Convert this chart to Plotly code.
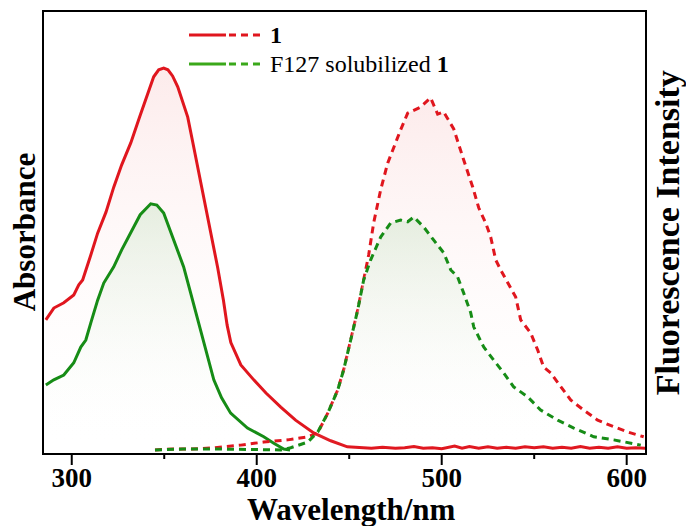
import plotly.graph_objects as go

# ---- Absorption spectra (left axis, a.u.) ----
abs_wl_1 = [286, 290.3, 295.7, 301.1, 303.8, 305.9, 310, 314, 318.5, 322.7, 327, 331.9,
            336.5, 341, 344.3, 347, 349.7, 352, 354.5, 357.3, 360, 362.7, 365.4, 368.1,
            370.8, 373.5, 376.2, 378.9, 382, 384, 386, 391.4, 398.4, 405, 413, 421, 430.8,
            440, 449, 455, 462, 468, 475, 480, 485, 490, 495, 500, 503, 507, 511, 515, 520,
            525, 530, 535, 540, 545, 550, 555, 560, 565, 570, 575, 580, 585, 590, 595, 600,
            605, 610]
abs_val_1 = [0.297, 0.324, 0.336, 0.354, 0.377, 0.388, 0.441, 0.495, 0.543, 0.600, 0.651,
             0.701, 0.758, 0.815, 0.852, 0.868, 0.872, 0.868, 0.854, 0.829, 0.797, 0.760,
             0.703, 0.646, 0.589, 0.532, 0.473, 0.416, 0.342, 0.285, 0.245, 0.194, 0.160,
             0.130, 0.098, 0.068, 0.039, 0.021, 0.007, 0.005, 0.004, 0.006, 0.004, 0.005,
             0.008, 0.004, 0.005, 0.003, 0.006, 0.009, 0.004, 0.008, 0.004, 0.007, 0.004,
             0.006, 0.004, 0.007, 0.005, 0.007, 0.004, 0.006, 0.004, 0.008, 0.004, 0.006,
             0.004, 0.007, 0.004, 0.005, 0.004]

abs_wl_f127 = [286, 290.3, 295.7, 301.1, 304.9, 307.6, 310.3, 314, 317.3, 322.7, 327, 331.9,
               337, 342.7, 346, 349.7, 355, 360.5, 364.3, 369.7, 376.8, 381, 385.9, 395,
               403.8, 409, 414.6, 418]
abs_val_f127 = [0.148, 0.160, 0.171, 0.199, 0.235, 0.251, 0.290, 0.342, 0.381, 0.418, 0.457,
                0.495, 0.537, 0.562, 0.559, 0.541, 0.479, 0.418, 0.358, 0.274, 0.160, 0.119,
                0.084, 0.050, 0.030, 0.016, 0.002, 0.0]

# ---- Fluorescence spectra (right axis, a.u.) ----
fl_wl_1 = [345, 355, 365, 376.8, 391.4, 403.8, 416.8, 427.6, 433, 438.4, 443.8, 447, 450.8,
           454.6, 457.8, 460.5, 463.2, 467, 470.8, 474, 477.8, 481.6, 484.9, 488.6, 494,
           497.8, 501, 506.5, 511.9, 516.8, 520, 523.8, 526.5, 529.2, 531.9, 535.7, 540,
           542.7, 548.1, 551.9, 555.1, 558.9, 564.3, 569.7, 576.8, 584.3, 593, 600.5, 609.2]
fl_val_1 = [0.000, 0.002, 0.002, 0.005, 0.011, 0.018, 0.023, 0.030, 0.039, 0.084, 0.137,
            0.183, 0.251, 0.320, 0.388, 0.445, 0.518, 0.594, 0.655, 0.692, 0.731, 0.769,
            0.776, 0.783, 0.804, 0.767, 0.772, 0.733, 0.662, 0.600, 0.553, 0.518, 0.486,
            0.434, 0.411, 0.381, 0.349, 0.297, 0.267, 0.228, 0.189, 0.176, 0.144, 0.114,
            0.091, 0.068, 0.053, 0.041, 0.030]

fl_wl_f127 = [345, 360, 380, 400, 413, 418.4, 427.6, 433, 438.4, 443.8, 447, 450.8, 454.6,
              457.8, 461.6, 467, 472.4, 477.8, 481.6, 484.9, 490.3, 495.7, 501.1, 504.9,
              508.6, 511.9, 515.7, 517.3, 522.7, 528.1, 533.5, 538.9, 546.5, 553.5, 562.7,
              571.4, 582.2, 593, 607.6]
fl_val_f127 = [0.000, 0.002, 0.002, 0.000, 0.000, 0.005, 0.018, 0.041, 0.084, 0.137, 0.183,
               0.251, 0.320, 0.388, 0.434, 0.486, 0.518, 0.525, 0.521, 0.532, 0.509, 0.479,
               0.450, 0.411, 0.395, 0.358, 0.313, 0.281, 0.235, 0.205, 0.176, 0.144, 0.121,
               0.091, 0.068, 0.050, 0.030, 0.023, 0.011]

x_ticks = [300, 400, 500, 600]
x_minor_ticks = [350, 450, 550]

RED = "#e0161e"
GREEN = "#168c16"
LEG_GREEN = "#3aa81a"
SERIF = "Times New Roman, Liberation Serif, serif"
X_RANGE = [285.0, 609.9]
PLOT_H = 441  # plot-area height in px, used to size the tick marks

red_fill = [[0, "rgba(255,255,255,0)"], [1, "rgba(250,215,215,0.5)"]]
green_fill = [[0, "rgba(255,255,255,0)"], [1, "rgba(205,228,200,0.5)"]]

fig = go.Figure()

fig.add_trace(go.Scatter(x=abs_wl_1, y=abs_val_1, mode="lines", fill="tozeroy",
                         fillgradient=dict(type="vertical", colorscale=red_fill),
                         line=dict(color=RED, width=3), showlegend=False))
fig.add_trace(go.Scatter(x=abs_wl_f127, y=abs_val_f127, mode="lines", fill="tozeroy",
                         fillgradient=dict(type="vertical", colorscale=green_fill),
                         line=dict(color=GREEN, width=3), showlegend=False))
fig.add_trace(go.Scatter(x=fl_wl_1, y=fl_val_1, mode="lines", fill="tozeroy", yaxis="y2",
                         fillgradient=dict(type="vertical", colorscale=red_fill),
                         line=dict(color=RED, width=3, dash="7px,5px"), showlegend=False))
fig.add_trace(go.Scatter(x=fl_wl_f127, y=fl_val_f127, mode="lines", fill="tozeroy", yaxis="y2",
                         fillgradient=dict(type="vertical", colorscale=green_fill),
                         line=dict(color=GREEN, width=3, dash="7px,5px"), showlegend=False))

shapes = []
annotations = []


def paper_x(v):
    # position of a wavelength as a fraction of the x-axis span
    return (v - X_RANGE[0]) / (X_RANGE[1] - X_RANGE[0])


# Outside tick marks on the wavelength axis (long at labelled values, short in between)
for vals, length in [(x_ticks, 12), (x_minor_ticks, 6)]:
    for v in vals:
        shapes.append(dict(type="line", xref="paper", yref="paper", x0=paper_x(v),
                           x1=paper_x(v), y0=0, y1=-length / PLOT_H,
                           line=dict(color="black", width=2)))

# Legend: solid (absorption) + dashed (emission) key drawn by hand
for yk, col, label in [(0.948, RED, "<b>1</b>"), (0.882, LEG_GREEN, "F127 solubilized <b>1</b>")]:
    shapes.append(dict(type="line", xref="paper", yref="paper", x0=0.2413, x1=0.3028,
                       y0=yk, y1=yk, line=dict(color=col, width=3)))
    shapes.append(dict(type="line", xref="paper", yref="paper", x0=0.3078, x1=0.3677,
                       y0=yk, y1=yk, line=dict(color=col, width=3, dash="7px,5px")))
    annotations.append(dict(xref="paper", yref="paper", x=0.3735, y=yk, xanchor="left",
                            yanchor="middle", text=label, showarrow=False,
                            font=dict(family=SERIF, size=24, color="black")))

# Axis titles
annotations.append(dict(xref="paper", yref="paper", x=0.512, y=-0.127, xanchor="center",
                        yanchor="middle", text="<b>Wavelength/nm</b>", showarrow=False,
                        font=dict(family=SERIF, size=31, color="black")))
annotations.append(dict(xref="paper", yref="paper", x=-0.032, y=0.50, xanchor="center",
                        yanchor="middle", text="<b>Absorbance</b>", textangle=-90,
                        showarrow=False, font=dict(family=SERIF, size=31, color="black")))
annotations.append(dict(xref="paper", yref="paper", x=1.038, y=0.50, xanchor="center",
                        yanchor="middle", text="<b>Fluorescence Intensity</b>", textangle=-90,
                        showarrow=False, font=dict(family=SERIF, size=34, color="black")))

fig.update_layout(
    width=686, height=526,
    margin=dict(l=44, r=41, t=12, b=73, autoexpand=False),
    paper_bgcolor="white", plot_bgcolor="white",
    shapes=shapes, annotations=annotations,
    xaxis=dict(range=X_RANGE, tickmode="array", tickvals=x_ticks, automargin=False,
               ticktext=["<b>%d</b>" % v for v in x_ticks],
               ticks="", ticklabelstandoff=0,
               showline=True, linecolor="black", linewidth=2, mirror=True,
               showgrid=False, zeroline=False,
               tickfont=dict(family=SERIF, size=27, color="black")),
    yaxis=dict(range=[-0.007, 1.0], showticklabels=False, ticks="", showgrid=False,
               automargin=False,
               zeroline=False, showline=True, linecolor="black", linewidth=2, mirror=True),
    yaxis2=dict(range=[-0.007, 1.0], overlaying="y", side="right", showticklabels=False,
                automargin=False,
                ticks="", showgrid=False, zeroline=False, showline=False),
)

fig.write_html("out.html")
